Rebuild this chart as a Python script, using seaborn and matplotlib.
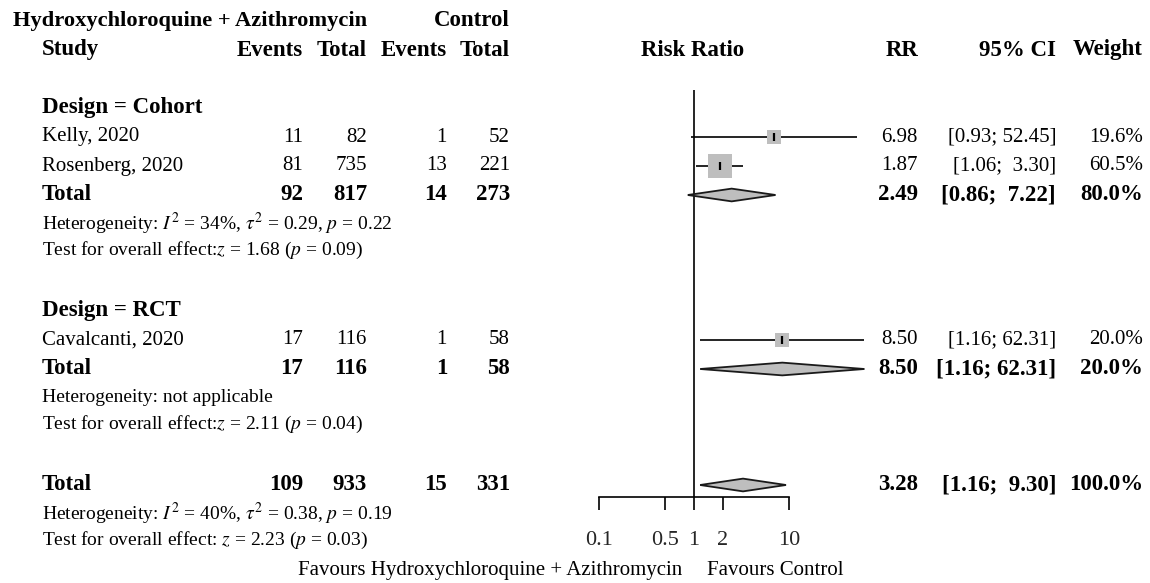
import numpy as np
import pandas as pd
import matplotlib
matplotlib.use("Agg")
import matplotlib.pyplot as plt
import matplotlib.transforms as mtransforms
from matplotlib.patches import Polygon
import seaborn as sns

# study level data
studies = ["Kelly, 2020", "Rosenberg, 2020", "Cavalcanti, 2020"]
design = ["Cohort", "Cohort", "RCT"]
events_hcq = [11, 81, 17]
total_hcq = [82, 735, 116]
events_ctrl = [1, 13, 1]
total_ctrl = [52, 221, 58]
rr = [6.98, 1.87, 8.50]
ci_low = [0.93, 1.06, 1.16]
ci_high = [52.45, 3.30, 62.31]
weight = [19.6, 60.5, 20.0]

# pooled results: Cohort subgroup, RCT subgroup, overall
groups = ["Cohort", "RCT"]
pooled_events_hcq = [92, 17, 109]
pooled_total_hcq = [817, 116, 933]
pooled_events_ctrl = [14, 1, 15]
pooled_total_ctrl = [273, 58, 331]
pooled_rr = [2.49, 8.50, 3.28]
pooled_low = [0.86, 1.16, 1.16]
pooled_high = [7.22, 62.31, 9.30]
pooled_weight = [80.0, 20.0, 100.0]
het_i2 = [34, None, 40]
het_tau2 = [0.29, None, 0.38]
het_p = [0.22, None, 0.19]
z_value = [1.68, 2.11, 2.23]
z_p = [0.09, 0.04, 0.03]

tick_values = [0.1, 0.5, 1, 2, 10]
tick_labels = ["0.1", "0.5", "1", "2", "10"]

# figure geometry (pixels)
W, H = 1150, 583
ROW0, PITCH = 21, 29


def px_to_row(py):
    return (py - ROW0) / PITCH


# row layout like meta::forest
group_rows, study_rows, pooled_rows = [], [], []
row = 3
for g in groups:
    group_rows.append(row)
    row += 1
    for d in design:
        if d == g:
            study_rows.append(row)
            row += 1
    pooled_rows.append(row)
    row += 4
pooled_rows.append(row)

sns.set_theme(style="white")
plt.rcParams["font.family"] = ["Liberation Serif", "DejaVu Serif"]
plt.rcParams["mathtext.fontset"] = "stix"

fig = plt.figure(figsize=(W / 100, H / 100), dpi=100)
ax_bottom_px = 497
ax = fig.add_axes([599 / W, (H - ax_bottom_px) / H, 190 / W, ax_bottom_px / H])
ax.set_xscale("log")
ax.set_xlim(0.1, 10)
ax.set_ylim(px_to_row(ax_bottom_px), px_to_row(0))

df = pd.DataFrame({"study": studies, "rr": rr, "row": study_rows, "weight": weight})

# confidence intervals
ax.hlines(study_rows, ci_low, ci_high, color="black", lw=1.2, clip_on=False, zorder=2)
# weighted squares
sns.scatterplot(data=df, x="rr", y="row", size="weight", sizes=(0, 494), size_norm=(0, 100),
                marker="s", color="#bebebe", edgecolor="none", legend=False, ax=ax,
                clip_on=False, zorder=3)
# point estimate tick
sns.scatterplot(data=df, x="rr", y="row", marker="|", color="black", s=36, linewidth=1.6,
                legend=False, ax=ax, clip_on=False, zorder=4)

# diamonds
dh = 0.22
for est, lo, hi, r in zip(pooled_rr, pooled_low, pooled_high, pooled_rows):
    ax.add_patch(Polygon([(lo, r), (est, r - dh), (hi, r), (est, r + dh)], closed=True,
                         facecolor="#bebebe", edgecolor="#1a1a1a", lw=1.3,
                         clip_on=False, zorder=3))

# line of no effect
ax.vlines(1, px_to_row(90), px_to_row(ax_bottom_px), color="black", lw=1.2, zorder=1)

for s in ["top", "right", "left"]:
    ax.spines[s].set_visible(False)
ax.spines["bottom"].set_color("black")
ax.spines["bottom"].set_linewidth(1.2)
ax.set_xticks(tick_values)
ax.set_xticklabels(tick_labels)
ax.minorticks_off()
ax.set_yticks([])
ax.tick_params(axis="x", direction="out", length=9.4, width=1.2, color="black",
               labelsize=16, pad=15, bottom=True)
ax.set_xlabel("")
ax.set_ylabel("")

# text columns
tr = mtransforms.blended_transform_factory(fig.transFigure, ax.transData)
FS = 15
FS_BOLD = 16.5
FS_SMALL = 14


def put(px, r, s, ha="left", bold=False, size=None):
    if size is None:
        size = FS_BOLD if bold else FS
    ax.text(px / W, r, s, transform=tr, ha=ha, va="center", fontsize=size,
            fontweight="bold" if bold else "normal", color="black")


put(367, 0, "Hydroxychloroquine + Azithromycin", ha="right", bold=True, size=16.2)
put(510, 0, "Control", ha="right", bold=True)
put(42, 1, "Study", bold=True)
for px, lab in [(303, "Events"), (367, "Total"), (447, "Events"), (510, "Total")]:
    put(px, 1, lab, ha="right", bold=True)
put(693, 1, "Risk Ratio", ha="center", bold=True)
put(918, 1, "RR", ha="right", bold=True)
put(1056, 1, "95% CI", ha="right", bold=True)
put(1143, 1, "Weight", ha="right", bold=True)


def row_values(r, name, e1, n1, e2, n2, est, lo, hi, w, bold):
    put(42, r, name, bold=bold)
    put(303, r, str(e1), ha="right", bold=bold)
    put(367, r, str(n1), ha="right", bold=bold)
    put(447, r, str(e2), ha="right", bold=bold)
    put(510, r, str(n2), ha="right", bold=bold)
    put(918, r, f"{est:.2f}", ha="right", bold=bold)
    put(1056, r, f"[{lo:.2f}; {hi:5.2f}]", ha="right", bold=bold)
    put(1143, r, f"{w:.1f}%", ha="right", bold=bold)


for g, r in zip(groups, group_rows):
    put(42, r, f"Design = {g}", bold=True)

for i, r in enumerate(study_rows):
    row_values(r, studies[i], events_hcq[i], total_hcq[i], events_ctrl[i], total_ctrl[i],
               rr[i], ci_low[i], ci_high[i], weight[i], False)

for i, r in enumerate(pooled_rows):
    row_values(r, "Total", pooled_events_hcq[i], pooled_total_hcq[i], pooled_events_ctrl[i],
               pooled_total_ctrl[i], pooled_rr[i], pooled_low[i], pooled_high[i],
               pooled_weight[i], True)
    if het_i2[i] is None:
        het = "Heterogeneity: not applicable"
    else:
        het = (f"Heterogeneity: $I^2$ = {het_i2[i]}%, $\\tau^2$ = {het_tau2[i]:.2f}, "
               f"$p$ = {het_p[i]:.2f}")
    sep = " " if i == len(pooled_rows) - 1 else ""
    test = f"Test for overall effect:{sep}$z$ = {z_value[i]:.2f} ($p$ = {z_p[i]:.2f})"
    put(42, r + 1, het, size=FS_SMALL)
    put(42, r + 1.9, test, size=FS_SMALL)

# favours labels
put(682, px_to_row(571), "Favours Hydroxychloroquine + Azithromycin", ha="right")
put(707, px_to_row(571), "Favours Control", ha="left")

fig.savefig("out.png", dpi=100)
